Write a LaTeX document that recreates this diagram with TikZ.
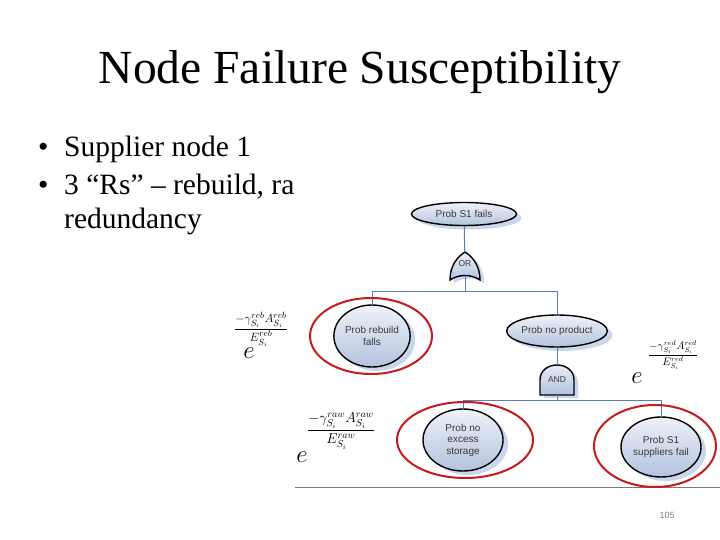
\documentclass[tikz,border=0pt]{standalone}
\usepackage{amsmath}
\usepackage{fontspec}
\setmainfont{Liberation Serif}
\newfontfamily\diagfont{Liberation Sans}
\usetikzlibrary{positioning,shapes.geometric,shadows}
\definecolor{linkblue}{HTML}{5A7DB5}
\definecolor{ringred}{HTML}{C8191E}
\definecolor{evlight}{HTML}{EEF2F9}
\definecolor{evdark}{HTML}{B3C2DD}
\definecolor{evshadow}{HTML}{CAD6EB}
\definecolor{evtext}{HTML}{3A3A3A}
\definecolor{rulegray}{HTML}{7A7A7A}
\newcommand{\expfrac}[1]{\dfrac{-\gamma^{#1}_{S_i}A^{#1}_{S_i}}{E^{#1}_{S_i}}}

\begin{document}
\begin{tikzpicture}[x=1pt,y=-1pt,
  event/.style={ellipse,draw=black,line width=1.4pt,top color=evlight,bottom color=evdark,
    drop shadow={fill=evshadow,shadow xshift=5pt,shadow yshift=-4pt,opacity=1},
    font=\diagfont\fontsize{10}{11.5}\selectfont,text=evtext,align=center,inner sep=0pt},
  gateline/.style={draw=black,line width=1.4pt,top color=evlight,bottom color=evdark,
    drop shadow={fill=evshadow,shadow xshift=4pt,shadow yshift=-3pt,opacity=1}},
  gate/.style={inner sep=0pt,font=\diagfont\fontsize{8.5}{10}\selectfont,text=evtext},
  link/.style={draw=linkblue,line width=1pt},
  ring/.style={ellipse,draw=ringred,line width=2pt,inner sep=0pt},
  bullet/.style={anchor=base west,inner sep=0pt,font=\fontsize{29.5}{33}\selectfont},
  ebase/.style={inner sep=0pt,font=\fontsize{30}{32}\selectfont}]
  \useasboundingbox[fill=white] (0,0) rectangle (720,540);
  % slide text
  \node[anchor=base,inner sep=0pt,font=\fontsize{47.5}{52}\selectfont] (title) at (360,84) {Node Failure Susceptibility};
  \node[bullet] (dot1) at (38,157) {\textbullet};
  \node[bullet] (item1) at (64,157) {Supplier node 1};
  \node[bullet] (dot2) at (38,195) {\textbullet};
  \node[bullet] (item2) at (64,195) {3 “Rs” – rebuild, ra};
  \node[bullet] (item2b) at (64,229) {redundancy};
  % pasted tree picture
  \fill[white] (305,170) rectangle (720,487);
  \draw[rulegray,line width=1pt] (295,487) -- (720,487);
  \node[event,minimum width=105,minimum height=23] (top) at (464,214) {Prob S1 fails};
  \coordinate (orpos) at (465,264);
  \path[gateline,shift={(orpos)}] (-15,16) .. controls (-15,2) and (-8,-7) .. (0,-12)
    .. controls (8,-7) and (15,2) .. (15,16) .. controls (6,10) and (-6,10) .. cycle;
  \node[gate,minimum width=30,minimum height=24] (orgate) at (orpos) {OR};
  \node[event,minimum width=76,minimum height=62] (rebuild) at (372,336) {Prob rebuild\\falls};
  \node[event,minimum width=98,minimum height=32] (noprod) at (557,331) {Prob no product};
  \coordinate (andpos) at (557,380);
  \path[gateline,shift={(andpos)}] (-17,15) -- (-17,0) .. controls (-17,-20) and (17,-20) .. (17,0)
    -- (17,15) -- cycle;
  \node[gate,minimum width=34,minimum height=30] (andgate) at (andpos) {AND};
  \node[event,minimum width=80,minimum height=62] (nostore) at (463,440) {Prob no\\excess\\storage};
  \node[event,minimum width=80,minimum height=60] (suppfail) at (661,447) {Prob S1\\suppliers fail};
  \coordinate (orfork) at (465,291);
  \coordinate (andfork) at (557,400);
  \draw[link] (top) -- (orgate);
  \draw[link] (orgate.south) -- (orfork) -| (rebuild.north);
  \draw[link] (orfork) -| (noprod.north);
  \draw[link] (noprod) -- (andgate);
  \draw[link] (andgate.south) -- (andfork) -| (nostore.north);
  \draw[link] (andfork) -| (suppfail.north);
  \node[ring,minimum width=122,minimum height=76] (rebring) at (371,336) {};
  \node[ring,minimum width=136,minimum height=76] (storering) at (465,440) {};
  \node[ring,minimum width=122,minimum height=82] (suppring) at (655,446) {};
  % rate terms
  \node[inner sep=0pt,font=\fontsize{13}{15}\selectfont] (rebfrac) at (261,329) {$\expfrac{reb}$};
  \node[ebase] (rebe) at (249,353) {$e$};
  \node[inner sep=0pt,font=\fontsize{10.5}{12}\selectfont] (redfrac) at (673,355) {$\expfrac{red}$};
  \node[ebase] (rede) at (637,378) {$e$};
  \node[inner sep=0pt,font=\fontsize{14}{16}\selectfont] (rawfrac) at (341,431) {$\expfrac{raw}$};
  \node[ebase] (rawe) at (302,457) {$e$};
  \node[inner sep=0pt,font=\diagfont\fontsize{9}{10}\selectfont,text=gray] (pageno) at (667,515) {105};
\end{tikzpicture}
\end{document}
